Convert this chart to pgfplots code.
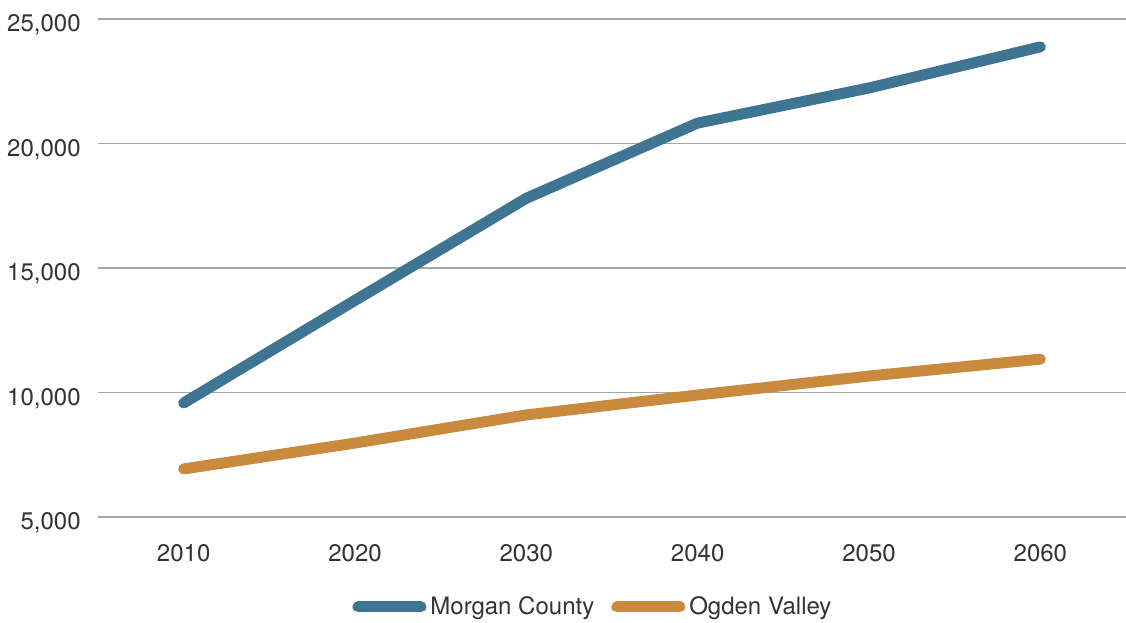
\documentclass[border=0pt]{standalone}
\usepackage{pgfplots}
\pgfplotsset{compat=1.18}
\usepackage{fontspec}
\setmainfont{TeX Gyre Heros}
\definecolor{mc}{HTML}{3D7592}
\definecolor{ov}{HTML}{C98A3E}
\definecolor{txt}{HTML}{333333}
\definecolor{grd}{HTML}{A6A6A6}
\begin{document}
\begin{tikzpicture}
\begin{axis}[name=ax, scale only axis, width=514pt, height=249pt,
  xmin=2005, xmax=2065, ymin=5000, ymax=25000,
  xtick={2010,2020,2030,2040,2050,2060}, ytick={5000,10000,15000,20000,25000},
  scaled y ticks=false,
  axis line style={draw=none}, tick style={draw=none},
  ymajorgrids, grid style={grd, line width=0.75pt},
  /pgf/number format/assume math mode=true,
  xticklabel style={/pgf/number format/1000 sep={}, text=txt, font=\fontsize{12}{14}\selectfont, inner sep=0pt, anchor=north, yshift=-13.5pt},
  yticklabel style={/pgf/number format/fixed, /pgf/number format/1000 sep={,}, text=txt, font=\fontsize{12}{14}\selectfont, inner sep=0pt, anchor=east, xshift=-8.5pt, yshift=-3pt},
  clip=false,
  legend columns=2,
  legend image code/.code={\draw[line width=5.5pt, line cap=round] (2.75pt,0pt) -- (34.25pt,0pt);},
  legend style={draw=none, fill=none, at={(0.4805,-0.1807)}, anchor=center,
    /tikz/every even column/.append style={column sep=8.5pt},
    /tikz/every odd column/.append style={column sep=2pt},
    nodes={inner sep=0pt, text=txt, font=\fontsize{12}{14}\selectfont}},
]
\addplot[mc, line width=5.5pt, line cap=round, line join=round] coordinates {
  (2010,9580) (2020,13700) (2030,17800) (2040,20820) (2050,22230) (2060,23880)};
\addlegendentry{Morgan County}
\addplot[ov, line width=5.5pt, line cap=round, line join=round] coordinates {
  (2010,6930) (2020,7970) (2030,9100) (2040,9900) (2050,10660) (2060,11340)};
\addlegendentry{Ogden Valley}
\end{axis}
\pgfresetboundingbox
\path[use as bounding box] ([xshift=-49pt,yshift=-52.5pt]ax.south west) rectangle ([yshift=9.5pt]ax.north east);
\end{tikzpicture}
\end{document}
